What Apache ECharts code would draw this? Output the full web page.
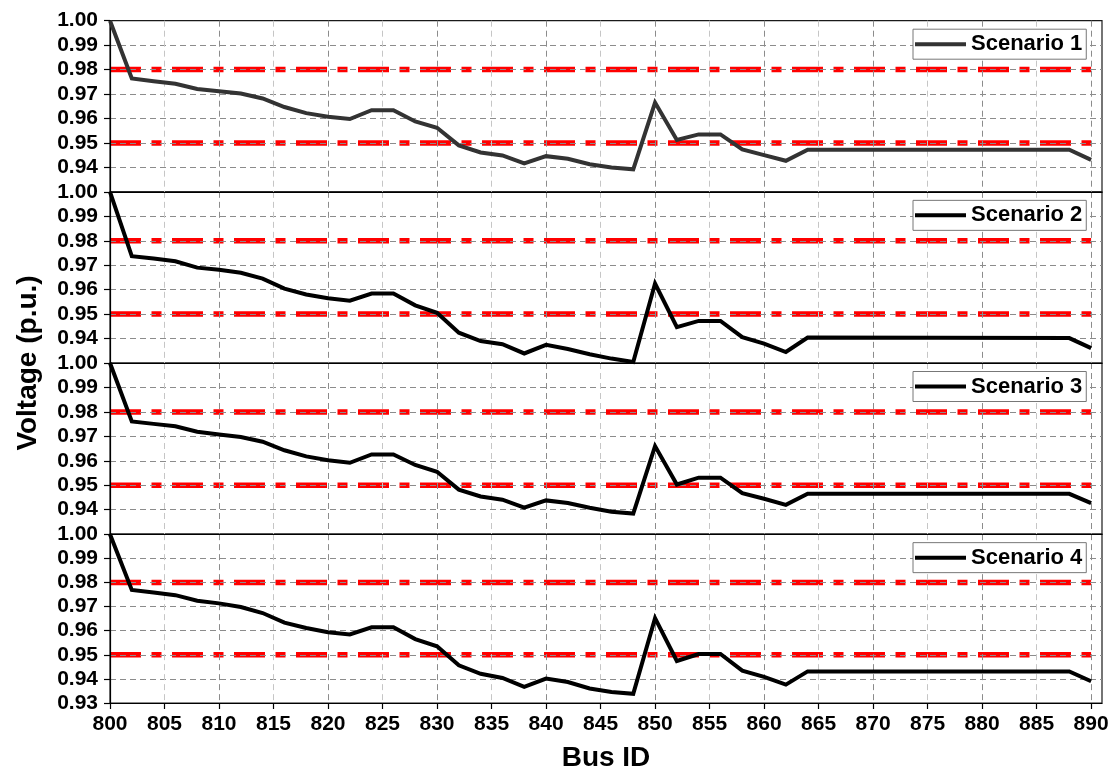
<!DOCTYPE html>
<html>
<head>
<meta charset="utf-8">
<script src="https://cdn.jsdelivr.net/npm/echarts@6/dist/echarts.min.js"></script>
<style>
  html, body { margin: 0; padding: 0; background: #fff; }
  #chart { width: 1114px; height: 773px; }
</style>
</head>
<body>
<div id="chart"></div>
<script>
// Bus voltage profile along the feeder, one panel per scenario
const busIds = [800, 802, 804, 806, 808, 810, 812, 814, 816, 818, 820, 822, 824, 826, 828, 830,
  832, 834, 836, 838, 840, 842, 844, 846, 848, 850, 852, 854, 856, 858, 860, 862, 864, 888, 890];

const scenario1 = [1.0000, 0.9764, 0.9752, 0.9742, 0.9721, 0.9711, 0.9702, 0.9682, 0.9647, 0.9622,
  0.9607, 0.9598, 0.9634, 0.9634, 0.9588, 0.9562, 0.9490, 0.9461, 0.9449, 0.9416, 0.9446, 0.9435,
  0.9413, 0.9400, 0.9392, 0.9665, 0.9512, 0.9535, 0.9535, 0.9474, 0.9450, 0.9427, 0.9472, 0.9472, 0.9431];
const scenario2 = [1.0000, 0.9737, 0.9727, 0.9716, 0.9690, 0.9681, 0.9669, 0.9645, 0.9604, 0.9580,
  0.9565, 0.9555, 0.9584, 0.9584, 0.9536, 0.9505, 0.9424, 0.9390, 0.9377, 0.9339, 0.9374, 0.9357,
  0.9336, 0.9318, 0.9304, 0.9625, 0.9447, 0.9472, 0.9472, 0.9406, 0.9379, 0.9345, 0.9404, 0.9402, 0.9361];
const scenario3 = [1.0000, 0.9761, 0.9751, 0.9741, 0.9719, 0.9708, 0.9697, 0.9678, 0.9643, 0.9618,
  0.9602, 0.9592, 0.9626, 0.9626, 0.9583, 0.9555, 0.9482, 0.9454, 0.9441, 0.9408, 0.9438, 0.9427,
  0.9408, 0.9392, 0.9384, 0.9660, 0.9503, 0.9531, 0.9531, 0.9468, 0.9445, 0.9420, 0.9465, 0.9465, 0.9427];
const scenario4 = [1.0000, 0.9769, 0.9758, 0.9747, 0.9724, 0.9713, 0.9698, 0.9673, 0.9633, 0.9611,
  0.9593, 0.9584, 0.9614, 0.9614, 0.9565, 0.9535, 0.9456, 0.9421, 0.9404, 0.9367, 0.9401, 0.9387,
  0.9360, 0.9346, 0.9338, 0.9652, 0.9474, 0.9503, 0.9503, 0.9434, 0.9408, 0.9376, 0.9431, 0.9431, 0.9390];

const scenarioNames = ['Scenario 1', 'Scenario 2', 'Scenario 3', 'Scenario 4'];
const scenarioValues = [scenario1, scenario2, scenario3, scenario4];
const scenarioColors = ['#333333', '#000000', '#000000', '#000000'];

// Voltage limits drawn as red dash-dot lines
const voltageLimits = [0.98, 0.95];
const limitSpan = [800, 890];

// Axis ranges
const xRange = [800, 891];
const xStep = 5;
const yRange = [0.93, 1.00];
const yStep = 0.01;

const FONT = '"Liberation Sans", Arial, sans-serif';
const panelTop = 20.7;
const panelHeight = 171.15;
const plotLeft = 110;
const plotRight = 12;

const grids = [], xAxes = [], yAxes = [], series = [], legends = [];

scenarioValues.forEach((vals, i) => {
  const top = panelTop + i * panelHeight;
  const last = i === scenarioValues.length - 1;
  grids.push({
    left: plotLeft, right: plotRight, top: top, height: panelHeight,
    show: true, borderColor: '#1a1a1a', borderWidth: 1.2, backgroundColor: 'transparent'
  });
  xAxes.push({
    gridIndex: i, type: 'value', min: xRange[0], max: xRange[1], interval: xStep, z: 2,
    name: last ? 'Bus ID' : '', nameLocation: 'middle', nameGap: 41,
    nameTextStyle: { fontFamily: FONT, fontWeight: 'bold', fontSize: 28, color: '#000' },
    axisLine: { show: true, lineStyle: { color: '#000', width: 1.2 } },
    axisTick: { show: last, inside: false, length: 6, lineStyle: { color: '#000', width: 1.2 } },
    axisLabel: {
      show: last, margin: 11, showMaxLabel: false,
      fontFamily: FONT, fontWeight: 'bold', fontSize: 21, color: '#000',
      formatter: v => (v % 5 === 0 ? String(v) : '')
    },
    splitLine: {
      show: true, showMinLine: true, showMaxLine: false,
      lineStyle: { color: ['#8c8c8c', '#c6c6c6'], width: 1, type: [6, 4] }
    }
  });
  yAxes.push({
    gridIndex: i, type: 'value', min: yRange[0], max: yRange[1], interval: yStep, z: 2,
    axisLine: { show: true, onZero: false, lineStyle: { color: '#000', width: 1.2 } },
    axisTick: { show: true, inside: false, length: 6, lineStyle: { color: '#000', width: 1.2 } },
    axisLabel: {
      showMinLabel: last, margin: 12,
      fontFamily: FONT, fontWeight: 'bold', fontSize: 21, color: '#000',
      formatter: v => v.toFixed(2)
    },
    splitLine: {
      show: true, showMinLine: false, showMaxLine: false,
      lineStyle: { color: '#8c8c8c', width: 1, type: [6, 4] }
    }
  });

  voltageLimits.forEach(lim => {
    series.push({
      type: 'line', xAxisIndex: i, yAxisIndex: i, z: 1, silent: true,
      symbol: 'none', animation: false,
      data: limitSpan.map(x => [x, lim]),
      lineStyle: { color: '#ff0000', width: 5.5, type: [31, 10.5, 10, 10.5] }
    });
  });

  series.push({
    name: scenarioNames[i], type: 'line', xAxisIndex: i, yAxisIndex: i, z: 3,
    symbol: 'none', showSymbol: false, animation: false,
    data: busIds.map((b, k) => [b, vals[k]]),
    itemStyle: { color: scenarioColors[i] },
    lineStyle: { color: scenarioColors[i], width: 4, join: 'miter' }
  });

  legends.push({
    data: [scenarioNames[i]], left: 913, top: top + 8.5, orient: 'horizontal',
    backgroundColor: '#fff', borderColor: '#777', borderWidth: 1, borderRadius: 0,
    padding: [4, 4, 4, 2], itemWidth: 51, itemHeight: 4, icon: 'rect',
    selectedMode: false,
    textStyle: { fontFamily: FONT, fontWeight: 'bold', fontSize: 22, color: '#000' }
  });
});

// Full-height overlay used only for the shared y-axis title
grids.push({ left: plotLeft, right: plotRight, top: panelTop, height: panelHeight * 4, show: false });
xAxes.push({ gridIndex: 4, type: 'value', min: 0, max: 1, show: false });
yAxes.push({
  gridIndex: 4, type: 'value', min: 0, max: 1,
  name: 'Voltage (p.u.)', nameLocation: 'middle', nameGap: 68,
  nameTextStyle: { fontFamily: FONT, fontWeight: 'bold', fontSize: 28, color: '#000' },
  axisLine: { show: false }, axisTick: { show: false }, axisLabel: { show: false },
  splitLine: { show: false }
});

const chart = echarts.init(document.getElementById('chart'), null, { renderer: 'canvas' });
chart.setOption({
  animation: false,
  backgroundColor: '#fff',
  grid: grids,
  xAxis: xAxes,
  yAxis: yAxes,
  legend: legends,
  series: series
});
</script>
</body>
</html>
